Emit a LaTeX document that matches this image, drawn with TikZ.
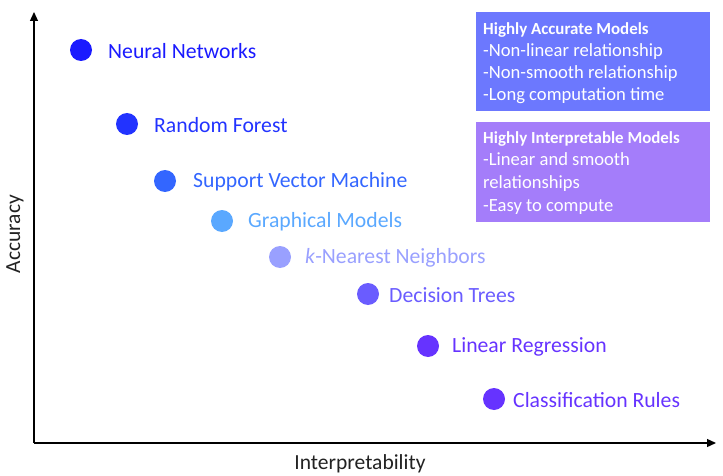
\documentclass[tikz,border=0pt]{standalone}
\usepackage{fontspec}
\setmainfont{Carlito}
\usetikzlibrary{arrows.meta}
\definecolor{cNN}{HTML}{1A1AFF}
\definecolor{cRF}{HTML}{2233FF}
\definecolor{cSVM}{HTML}{3366FF}
\definecolor{cGM}{HTML}{5AA8FF}
\definecolor{cKNN}{HTML}{99A0FF}
\definecolor{cDT}{HTML}{6A5CFF}
\definecolor{cLR}{HTML}{6633FF}
\definecolor{boxA}{HTML}{6C78FE}
\definecolor{boxB}{HTML}{A47DFA}
\definecolor{axtext}{HTML}{222222}
\begin{document}
\begin{tikzpicture}[x=1pt,y=-1pt,
  dot/.style={circle,minimum size=22pt,inner sep=0pt},
  lbl/.style={anchor=west,inner sep=0pt,font=\fontsize{21.7}{24}\selectfont},
  axis/.style={line width=1.3pt,-{Triangle[length=9pt,width=8pt]}},
  boxhead/.style={anchor=base west,inner sep=0pt,text=white,font=\bfseries\fontsize{16.9}{20}\selectfont},
  boxline/.style={anchor=base west,inner sep=0pt,text=white,font=\fontsize{18.6}{22}\selectfont}
]
\useasboundingbox (0,0) rectangle (723,476);
% axes
\coordinate (orig) at (34,443);
\coordinate (ytop) at (34,12);
\coordinate (xend) at (716,443);
\draw[axis] (orig) -- (ytop);
\draw[axis] (orig) -- (xend);
\node[rotate=90,text=axtext,font=\fontsize{21.5}{24}\selectfont] (ylab) at (15,234) {Accuracy};
\node[text=axtext,font=\fontsize{21.5}{24}\selectfont] (xlab) at (360,464) {Interpretability};
% points
\node[dot,fill=cNN] (nn) at (81,50) {};
\node[lbl,text=cNN] (nnl) at (108,51) {Neural Networks};
\node[dot,fill=cRF] (rf) at (127,124) {};
\node[lbl,text=cRF] (rfl) at (154,125) {Random Forest};
\node[dot,fill=cSVM] (svm) at (165,181) {};
\node[lbl,text=cSVM] (svml) at (193,182) {Support Vector Machine};
\node[dot,fill=cGM] (gm) at (222,221) {};
\node[lbl,text=cGM] (gml) at (248,222) {Graphical Models};
\node[dot,fill=cKNN] (knn) at (280,257) {};
\node[lbl,text=cKNN] (knnl) at (305,258) {\textit{k}-Nearest Neighbors};
\node[dot,fill=cDT] (dt) at (368,294) {};
\node[lbl,text=cDT] (dtl) at (389,295) {Decision Trees};
\node[dot,fill=cLR] (lr) at (428,346) {};
\node[lbl,text=cLR] (lrl) at (452,347) {Linear Regression};
\node[dot,fill=cLR] (cr) at (494,399) {};
\node[lbl,text=cLR] (crl) at (513,400) {Classification Rules};
% boxes
\fill[boxA] (476,12) rectangle (710,111);
\fill[boxB] (476,122) rectangle (710,222);
\node[boxhead] (a0) at (483,34.5) {Highly Accurate Models};
\node[boxline] (a1) at (483,56.5) {-Non-linear relationship};
\node[boxline] (a2) at (483,78.5) {-Non-smooth relationship};
\node[boxline] (a3) at (483,100.5) {-Long computation time};
\node[boxhead] (b0) at (483,143.5) {Highly Interpretable Models};
\node[boxline] (b1) at (483,166) {-Linear and smooth};
\node[boxline] (b2) at (483,188.5) {relationships};
\node[boxline] (b3) at (483,211.5) {-Easy to compute};
\end{tikzpicture}
\end{document}
